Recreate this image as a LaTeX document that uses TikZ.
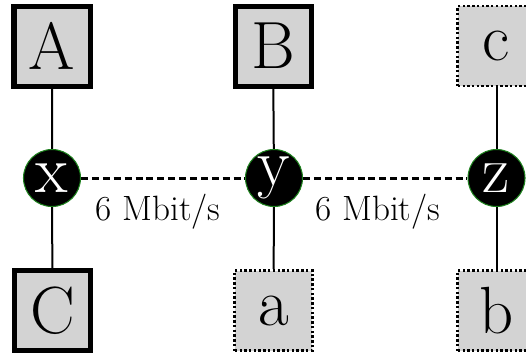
\documentclass[tikz,border=0pt]{standalone}
\usepackage{tikz}
\usetikzlibrary{positioning}
\definecolor{boxgray}{RGB}{211,211,211}
\definecolor{ringgreen}{RGB}{30,130,30}
\tikzset{
  host/.style={draw, line width=0.1cm, fill=boxgray, minimum width=1.52cm, minimum height=1.6cm, inner sep=0pt, font=\fontsize{38}{40}\selectfont},
  guest/.style={host, line width=0.055cm, dash pattern=on 1.4pt off 1.3pt, minimum width=1.55cm, minimum height=1.6cm},
  router/.style={circle, fill=black, draw=ringgreen, line width=0.6pt, text=white, minimum size=1.14cm, inner sep=0pt, font=\fontsize{38}{40}\selectfont},
  wire/.style={line width=0.04cm},
  trunk/.style={line width=0.06cm, dash pattern=on 4pt off 2.2pt},
  rate/.style={anchor=base, font=\fontsize{20}{24}\selectfont}
}
\begin{document}
\begin{tikzpicture}
    \clip (0,0) rectangle (10.52,7.06);
    \node[router] (x) at (1.04,3.5) {x};
    \node[router] (y) at (5.48,3.5) {y};
    \node[router] (z) at (9.93,3.5) {z};
    \node[host]  (A) at (1.04,6.14) {A};
    \node[host]  (B) at (5.46,6.14) {B};
    \node[guest] (c) at (9.93,6.14) {c};
    \node[host]  (C) at (1.05,0.85) {C};
    \node[guest] (a) at (5.47,0.85) {a};
    \node[guest] (b) at (9.93,0.85) {b};
    \draw[wire] (A) -- (x) -- (C);
    \draw[wire] (B) -- (y) -- (a);
    \draw[wire] (c) -- (z) -- (b);
    \draw[trunk] (x) -- (y) node[rate, midway, xshift=-0.1cm, yshift=-0.84cm]{6 Mbit/s};
    \draw[trunk] (y) -- (z) node[rate, midway, xshift=-0.15cm, yshift=-0.84cm]{6 Mbit/s};
\end{tikzpicture}
\end{document}
